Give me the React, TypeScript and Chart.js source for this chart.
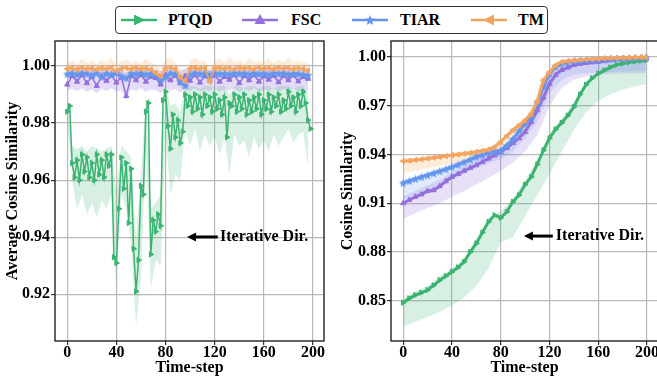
import React, { useEffect, useRef } from 'react';
import { Chart, registerables } from 'chart.js';

Chart.register(...registerables);

const FONT = "'Liberation Serif', 'Times New Roman', Times, serif";
const C_PTQD = '#3CB371';
const C_FSC = '#9370DB';
const C_TIAR = '#6495ED';
const C_TM = '#F4A460';

const SERIES = ['PTQD', 'FSC', 'TIAR', 'TM'];
const X_TICKS = [0, 40, 80, 120, 160, 200];
const Y_TICKS_LEFT = [0.92, 0.94, 0.96, 0.98, 1.0];
const Y_TICKS_RIGHT = [0.85, 0.88, 0.91, 0.94, 0.97, 1.0];

function range(a: number, b: number, s: number): number[] {
  const out: number[] = [];
  for (let v = a; v <= b; v += s) out.push(v);
  return out;
}

// ---------- LEFT panel (Average Cosine Similarity) ----------
const L_STEPS_2 = range(0, 198, 2);
const L_STEPS_4 = range(0, 196, 4);

const L_PTQD = [
  0.984, 0.986, 0.966, 0.961, 0.967, 0.960, 0.969, 0.963, 0.968, 0.961,
  0.966, 0.960, 0.969, 0.962, 0.967, 0.961, 0.969, 0.965, 0.969, 0.933,
  0.931, 0.950, 0.968, 0.957, 0.966, 0.945, 0.964, 0.936, 0.921, 0.932,
  0.958, 0.955, 0.984, 0.987, 0.934, 0.946, 0.942, 0.948, 0.944, 0.988,
  0.991, 0.979, 0.971, 0.983, 0.975, 0.981, 0.973, 0.977, 0.990, 0.986,
  0.989, 0.984, 0.990, 0.985, 0.989, 0.983, 0.990, 0.986, 0.989, 0.984,
  0.990, 0.985, 0.988, 0.983, 0.989, 0.975, 0.987, 0.986, 0.990, 0.984,
  0.989, 0.985, 0.990, 0.983, 0.988, 0.984, 0.989, 0.985, 0.990, 0.983,
  0.988, 0.985, 0.990, 0.984, 0.989, 0.986, 0.990, 0.984, 0.988, 0.985,
  0.991, 0.986, 0.989, 0.984, 0.990, 0.986, 0.991, 0.987, 0.981, 0.978,
];
const L_PTQD_LO = [
  0.981, 0.960, 0.950, 0.955, 0.948, 0.952, 0.947, 0.953, 0.950, 0.955,
  0.921, 0.955, 0.950, 0.938, 0.909, 0.925, 0.972, 0.922, 0.932, 0.930,
  0.975, 0.955, 0.962, 0.960, 0.978, 0.972, 0.978, 0.970, 0.976, 0.972,
  0.975, 0.969, 0.975, 0.962, 0.976, 0.972, 0.974, 0.968, 0.975, 0.971,
  0.974, 0.970, 0.976, 0.972, 0.975, 0.978, 0.973, 0.976, 0.977, 0.965,
];
const L_PTQD_HI = [
  0.987, 0.972, 0.971, 0.972, 0.970, 0.972, 0.971, 0.970, 0.971, 0.972,
  0.956, 0.972, 0.970, 0.968, 0.940, 0.962, 0.990, 0.950, 0.952, 0.955,
  0.994, 0.986, 0.987, 0.984, 0.993, 0.993, 0.993, 0.992, 0.993, 0.993,
  0.992, 0.993, 0.993, 0.990, 0.993, 0.993, 0.992, 0.993, 0.993, 0.992,
  0.993, 0.993, 0.992, 0.993, 0.993, 0.993, 0.992, 0.993, 0.993, 0.990,
];
const L_FSC = [
  0.9935, 0.9965, 0.9945, 0.9968, 0.9940, 0.9962, 0.9930, 0.9965, 0.9948, 0.9966,
  0.9942, 0.9960, 0.9895, 0.9965, 0.9950, 0.9968, 0.9945, 0.9962, 0.9958, 0.9935,
  0.9968, 0.9950, 0.9966, 0.9940, 0.9965, 0.9948, 0.9968, 0.9942, 0.9964, 0.9950,
  0.9967, 0.9945, 0.9962, 0.9952, 0.9968, 0.9940, 0.9965, 0.9950, 0.9968, 0.9945,
  0.9964, 0.9952, 0.9966, 0.9943, 0.9965, 0.9950, 0.9967, 0.9946, 0.9962, 0.9955,
];
const L_FSC_LO = [
  0.9915, 0.9920, 0.9912, 0.9922, 0.9910, 0.9918, 0.9905, 0.9920, 0.9912, 0.9922,
  0.9910, 0.9916, 0.9880, 0.9920, 0.9912, 0.9922, 0.9910, 0.9918, 0.9915, 0.9905,
  0.9922, 0.9912, 0.9920, 0.9905, 0.9920, 0.9912, 0.9922, 0.9910, 0.9918, 0.9912,
  0.9922, 0.9910, 0.9918, 0.9914, 0.9922, 0.9908, 0.9920, 0.9912, 0.9922, 0.9910,
  0.9918, 0.9914, 0.9920, 0.9908, 0.9920, 0.9912, 0.9922, 0.9910, 0.9918, 0.9912,
];
const L_FSC_HI = [
  0.9988, 0.9992, 0.9986, 0.9993, 0.9985, 0.9990, 0.9984, 0.9992, 0.9987, 0.9993,
  0.9985, 0.9990, 0.9975, 0.9992, 0.9987, 0.9993, 0.9985, 0.9990, 0.9989, 0.9982,
  0.9993, 0.9987, 0.9992, 0.9982, 0.9991, 0.9986, 0.9993, 0.9985, 0.9990, 0.9987,
  0.9993, 0.9985, 0.9990, 0.9988, 0.9993, 0.9984, 0.9991, 0.9987, 0.9993, 0.9985,
  0.9990, 0.9988, 0.9992, 0.9984, 0.9991, 0.9987, 0.9993, 0.9985, 0.9990, 0.9988,
];
const L_TIAR = [
  0.9972, 0.9975, 0.9970, 0.9976, 0.9973, 0.9968, 0.9975, 0.9962, 0.9974, 0.9970,
  0.9976, 0.9965, 0.9958, 0.9974, 0.9972, 0.9976, 0.9970, 0.9974, 0.9968, 0.9950,
  0.9962, 0.9975, 0.9972, 0.9945, 0.9932, 0.9970, 0.9976, 0.9972, 0.9975, 0.9969,
  0.9976, 0.9972, 0.9974, 0.9970, 0.9976, 0.9973, 0.9975, 0.9970, 0.9976, 0.9972,
  0.9975, 0.9969, 0.9976, 0.9973, 0.9975, 0.9970, 0.9974, 0.9972, 0.9970, 0.9968,
];
const L_TIAR_LO = [
  0.9958, 0.9962, 0.9955, 0.9963, 0.9959, 0.9952, 0.9962, 0.9945, 0.9960, 0.9956,
  0.9963, 0.9950, 0.9940, 0.9960, 0.9958, 0.9963, 0.9955, 0.9960, 0.9952, 0.9930,
  0.9945, 0.9962, 0.9958, 0.9925, 0.9912, 0.9955, 0.9963, 0.9958, 0.9962, 0.9954,
  0.9963, 0.9958, 0.9960, 0.9955, 0.9963, 0.9959, 0.9962, 0.9955, 0.9963, 0.9958,
  0.9962, 0.9954, 0.9963, 0.9959, 0.9962, 0.9955, 0.9960, 0.9958, 0.9955, 0.9952,
];
const L_TIAR_HI = [
  0.9986, 0.9988, 0.9984, 0.9989, 0.9986, 0.9983, 0.9988, 0.9978, 0.9987, 0.9984,
  0.9989, 0.9980, 0.9975, 0.9987, 0.9986, 0.9989, 0.9984, 0.9987, 0.9982, 0.9968,
  0.9978, 0.9988, 0.9986, 0.9962, 0.9952, 0.9984, 0.9989, 0.9986, 0.9988, 0.9983,
  0.9989, 0.9986, 0.9987, 0.9984, 0.9989, 0.9986, 0.9988, 0.9984, 0.9989, 0.9986,
  0.9988, 0.9983, 0.9989, 0.9986, 0.9988, 0.9984, 0.9987, 0.9986, 0.9984, 0.9982,
];
const L_TM = [
  0.9990, 0.9993, 0.9989, 0.9994, 0.9990, 0.9992, 0.9988, 0.9993, 0.9990, 0.9994,
  0.9982, 0.9991, 0.9993, 0.9989, 0.9994, 0.9990, 0.9992, 0.9988, 0.9975, 0.9965,
  0.9992, 0.9994, 0.9990, 0.9960, 0.9948, 0.9991, 0.9994, 0.9990, 0.9993, 0.9945,
  0.9992, 0.9994, 0.9990, 0.9993, 0.9989, 0.9994, 0.9991, 0.9993, 0.9989, 0.9994,
  0.9990, 0.9993, 0.9989, 0.9994, 0.9991, 0.9993, 0.9989, 0.9993, 0.9990, 0.9985,
];
const L_TM_LO = [
  0.9972, 0.9978, 0.9970, 0.9980, 0.9974, 0.9976, 0.9968, 0.9978, 0.9972, 0.9980,
  0.9962, 0.9975, 0.9978, 0.9970, 0.9979, 0.9973, 0.9976, 0.9968, 0.9950, 0.9940,
  0.9975, 0.9979, 0.9972, 0.9935, 0.9925, 0.9974, 0.9980, 0.9972, 0.9977, 0.9925,
  0.9975, 0.9979, 0.9972, 0.9978, 0.9970, 0.9979, 0.9973, 0.9977, 0.9970, 0.9979,
  0.9972, 0.9977, 0.9970, 0.9979, 0.9973, 0.9977, 0.9970, 0.9977, 0.9972, 0.9965,
];
const L_TM_HI = [
  1.0012, 1.0020, 1.0008, 1.0025, 1.0010, 1.0018, 1.0006, 1.0022, 1.0012, 1.0030,
  1.0008, 1.0015, 1.0024, 1.0010, 1.0019, 1.0008, 1.0026, 1.0012, 1.0004, 0.9995,
  1.0020, 1.0028, 1.0010, 0.9990, 0.9985, 1.0016, 1.0030, 1.0012, 1.0022, 0.9992,
  1.0018, 1.0026, 1.0010, 1.0032, 1.0014, 1.0020, 1.0008, 1.0028, 1.0012, 1.0018,
  1.0010, 1.0026, 1.0009, 1.0022, 1.0014, 1.0030, 1.0010, 1.0018, 1.0012, 1.0008,
];

// ---------- RIGHT panel (Cosine Similarity) ----------
const R_STEPS = [...range(0, 195, 5), 199];
const R_BAND_STEPS = [...range(0, 190, 10), 199];

const R_PTQD = [
  0.8488, 0.8515, 0.8535, 0.8550, 0.8566, 0.8595, 0.8627, 0.8652, 0.8678, 0.8705,
  0.8740, 0.8800, 0.8853, 0.8920, 0.8986, 0.9027, 0.9010, 0.9047, 0.9109, 0.9150,
  0.9215, 0.9262, 0.9340, 0.9426, 0.9500, 0.9555, 0.9595, 0.9640, 0.9693, 0.9770,
  0.9830, 0.9870, 0.9898, 0.9918, 0.9937, 0.9952, 0.9960, 0.9967, 0.9972, 0.9977,
  0.9980,
];
const R_FSC = [
  0.9100, 0.9120, 0.9140, 0.9155, 0.9175, 0.9180, 0.9205, 0.9235, 0.9262, 0.9280,
  0.9300, 0.9318, 0.9334, 0.9355, 0.9375, 0.9395, 0.9416, 0.9440, 0.9470, 0.9500,
  0.9539, 0.9600, 0.9672, 0.9750, 0.9836, 0.9890, 0.9920, 0.9935, 0.9950, 0.9958,
  0.9963, 0.9967, 0.9970, 0.9975, 0.9980, 0.9985, 0.9988, 0.9991, 0.9993, 0.9995,
  0.9995,
];
const R_TIAR = [
  0.9225, 0.9238, 0.9250, 0.9262, 0.9273, 0.9285, 0.9298, 0.9310, 0.9324, 0.9338,
  0.9353, 0.9368, 0.9385, 0.9398, 0.9410, 0.9418, 0.9426, 0.9455, 0.9495, 0.9545,
  0.9590, 0.9630, 0.9715, 0.9816, 0.9898, 0.9939, 0.9960, 0.9968, 0.9974, 0.9978,
  0.9980, 0.9983, 0.9985, 0.9987, 0.9989, 0.9991, 0.9992, 0.9993, 0.9994, 0.9995,
  0.9995,
];
const R_TM = [
  0.9359, 0.9362, 0.9366, 0.9370, 0.9375, 0.9380, 0.9385, 0.9390, 0.9396, 0.9400,
  0.9405, 0.9410, 0.9416, 0.9422, 0.9430, 0.9445, 0.9478, 0.9515, 0.9550, 0.9580,
  0.9610, 0.9650, 0.9730, 0.9857, 0.9908, 0.9949, 0.9969, 0.9975, 0.9979, 0.9982,
  0.9985, 0.9987, 0.9989, 0.9991, 0.9993, 0.9994, 0.9995, 0.9996, 0.9997, 0.9998,
  0.9998,
];
const R_PTQD_LO = [0.834, 0.837, 0.840, 0.843, 0.847, 0.852, 0.859, 0.870, 0.886, 0.889, 0.902, 0.915, 0.928, 0.942, 0.955, 0.966, 0.973, 0.977, 0.980, 0.982, 0.983];
const R_PTQD_HI = [0.851, 0.856, 0.859, 0.865, 0.870, 0.876, 0.888, 0.901, 0.905, 0.913, 0.924, 0.937, 0.953, 0.962, 0.972, 0.985, 0.991, 0.995, 0.997, 0.998, 0.9985];
const R_FSC_LO = [0.9005, 0.9040, 0.9070, 0.9100, 0.9140, 0.9175, 0.9215, 0.9255, 0.9300, 0.9350, 0.9420, 0.9520, 0.9700, 0.9810, 0.9860, 0.9880, 0.9890, 0.9895, 0.9898, 0.9900, 0.9900];
const R_FSC_HI = [0.9140, 0.9175, 0.9210, 0.9245, 0.9290, 0.9330, 0.9365, 0.9400, 0.9440, 0.9500, 0.9575, 0.9710, 0.9870, 0.9950, 0.9975, 0.9985, 0.9990, 0.9995, 0.9997, 0.9998, 0.9998];
const R_TIAR_LO = [0.9120, 0.9150, 0.9180, 0.9210, 0.9245, 0.9280, 0.9315, 0.9345, 0.9370, 0.9420, 0.9500, 0.9600, 0.9780, 0.9860, 0.9890, 0.9900, 0.9905, 0.9908, 0.9910, 0.9912, 0.9912];
const R_TIAR_HI = [0.9240, 0.9265, 0.9290, 0.9315, 0.9340, 0.9370, 0.9400, 0.9425, 0.9440, 0.9510, 0.9605, 0.9730, 0.9915, 0.9975, 0.9990, 0.9995, 0.9998, 1.0000, 1.0001, 1.0002, 1.0002];
const R_TM_LO = [0.9285, 0.9300, 0.9315, 0.9330, 0.9345, 0.9358, 0.9375, 0.9395, 0.9410, 0.9480, 0.9550, 0.9670, 0.9870, 0.9940, 0.9965, 0.9975, 0.9980, 0.9984, 0.9987, 0.9990, 0.9991];
const R_TM_HI = [0.9375, 0.9381, 0.9390, 0.9400, 0.9411, 0.9420, 0.9431, 0.9445, 0.9493, 0.9565, 0.9625, 0.9745, 0.9920, 0.9980, 0.9990, 0.9995, 0.9998, 1.0000, 1.0001, 1.0002, 1.0002];

const NOTE_TEXT = 'Iterative Dir.';

function makeStar(color: string, size: number) {
  const c = document.createElement('canvas');
  c.width = size;
  c.height = size;
  const ctx = c.getContext('2d')!;
  ctx.fillStyle = color;
  ctx.beginPath();
  for (let i = 0; i < 10; i++) {
    const r = i % 2 === 0 ? size / 2 : size / 4.4;
    const a = -Math.PI / 2 + (i * Math.PI) / 5;
    ctx.lineTo(size / 2 + r * Math.cos(a), size / 2 + 0.5 + r * Math.sin(a));
  }
  ctx.closePath();
  ctx.fill();
  return c;
}

function pts(steps: number[], vals: number[]) {
  return steps.map((x, i) => ({ x, y: vals[i] }));
}

function lineSet(label: string, steps: number[], vals: number[], color: string, style: any, rot: number, r: number, lw: number, order: number) {
  return {
    label,
    data: pts(steps, vals),
    borderColor: color,
    backgroundColor: color,
    borderWidth: lw,
    pointStyle: style,
    pointRotation: rot,
    pointRadius: r,
    pointBorderWidth: 1,
    pointBackgroundColor: color,
    pointBorderColor: color,
    fill: false,
    tension: 0,
    order,
  };
}

function bandSets(steps: number[], lo: number[], hi: number[], rgba: string, order: number) {
  return [
    { label: '', data: pts(steps, lo), borderWidth: 0, borderColor: 'rgba(0,0,0,0)', pointRadius: 0, fill: false, order },
    { label: '', data: pts(steps, hi), borderWidth: 0, borderColor: 'rgba(0,0,0,0)', pointRadius: 0, fill: '-1', backgroundColor: rgba, order },
  ];
}

function framePlugin(note: { head: number; tail: number; textX: number; y: number }) {
  return {
    id: 'frameNote',
    afterDatasetsDraw(chart: any) {
      const { ctx, chartArea: a, scales } = chart;
      const x = scales.x;
      const y = scales.y;
      ctx.save();
      ctx.strokeStyle = '#222';
      ctx.lineWidth = 1.4;
      ctx.strokeRect(a.left, a.top, a.right - a.left, a.bottom - a.top);
      const hx = x.getPixelForValue(note.head);
      const tx = x.getPixelForValue(note.tail);
      const py = y.getPixelForValue(note.y);
      ctx.strokeStyle = '#000';
      ctx.fillStyle = '#000';
      ctx.lineWidth = 3;
      ctx.beginPath();
      ctx.moveTo(tx, py);
      ctx.lineTo(hx + 6, py);
      ctx.stroke();
      ctx.beginPath();
      ctx.moveTo(hx, py);
      ctx.lineTo(hx + 9, py - 4.5);
      ctx.lineTo(hx + 9, py + 4.5);
      ctx.closePath();
      ctx.fill();
      ctx.font = `bold 16px ${FONT}`;
      ctx.textAlign = 'left';
      ctx.textBaseline = 'alphabetic';
      ctx.fillText(NOTE_TEXT, x.getPixelForValue(note.textX), py + 4);
      ctx.restore();
    },
  };
}

function makeOptions(p: { yMin: number; yMax: number; yTicks: number[]; yTitle: string; yWidth: number; titlePad: number; padRight: number }) {
  const tickFont = { family: FONT, size: 16, weight: 'bold' as const };
  const grid = { color: '#b9b9b9', lineWidth: 1.2, tickColor: '#333', tickLength: 4, tickWidth: 1.2 };
  return {
    animation: false as const,
    responsive: false,
    maintainAspectRatio: false,
    events: [],
    layout: { padding: { top: 41, right: p.padRight, bottom: 0, left: 0 } },
    plugins: { legend: { display: false }, tooltip: { enabled: false } },
    scales: {
      x: {
        type: 'linear' as const,
        min: -9.95,
        max: 208.95,
        afterBuildTicks: (s: any) => {
          s.ticks = X_TICKS.map((v) => ({ value: v }));
        },
        afterFit: (s: any) => {
          s.height = 36;
          s.paddingLeft = 0;
          s.paddingRight = 0;
        },
        border: { display: false },
        grid,
        ticks: { color: '#000', font: tickFont, padding: -2, maxRotation: 0, autoSkip: false, callback: (v: any) => String(v) },
        title: { display: true, text: 'Time-step', color: '#000', font: tickFont, padding: { top: 0, bottom: 0 } },
      },
      y: {
        type: 'linear' as const,
        min: p.yMin,
        max: p.yMax,
        afterBuildTicks: (s: any) => {
          s.ticks = p.yTicks.map((v) => ({ value: v }));
        },
        afterFit: (s: any) => {
          s.width = p.yWidth;
          s.paddingTop = 0;
          s.paddingBottom = 0;
        },
        border: { display: false },
        grid,
        ticks: { color: '#000', font: tickFont, padding: 1, autoSkip: false, callback: (v: any) => Number(v).toFixed(2) },
        title: { display: true, text: p.yTitle, color: '#000', font: tickFont, padding: { top: p.titlePad, bottom: 0 } },
      },
    },
  };
}

function LegendMarker({ kind, color }: { kind: string; color: string }) {
  const cx = 19;
  const cy = 14;
  let shape: any = null;
  if (kind === 'right') shape = <polygon points={`${cx - 5},${cy - 5.5} ${cx + 6},${cy} ${cx - 5},${cy + 5.5}`} fill={color} />;
  if (kind === 'up') shape = <polygon points={`${cx},${cy - 6} ${cx + 5.5},${cy + 4} ${cx - 5.5},${cy + 4}`} fill={color} />;
  if (kind === 'left') shape = <polygon points={`${cx + 5},${cy - 5.5} ${cx - 6},${cy} ${cx + 5},${cy + 5.5}`} fill={color} />;
  if (kind === 'star') {
    const p: string[] = [];
    for (let i = 0; i < 10; i++) {
      const r = i % 2 === 0 ? 5.5 : 2.4;
      const a = -Math.PI / 2 + (i * Math.PI) / 5;
      p.push(`${cx + r * Math.cos(a)},${cy + 0.5 + r * Math.sin(a)}`);
    }
    shape = <polygon points={p.join(' ')} fill={color} />;
  }
  return (
    <svg width={38} height={28} style={{ display: 'block' }}>
      <line x1={1} y1={cy} x2={37} y2={cy} stroke={color} strokeWidth={2.5} />
      {shape}
    </svg>
  );
}

const LEGEND_ITEMS = [
  { name: SERIES[0], color: C_PTQD, kind: 'right', lx: 120, tx: 168 },
  { name: SERIES[1], color: C_FSC, kind: 'up', lx: 241, tx: 291 },
  { name: SERIES[2], color: C_TIAR, kind: 'star', lx: 351, tx: 400 },
  { name: SERIES[3], color: C_TM, kind: 'left', lx: 470, tx: 518 },
];

export default function App() {
  const leftRef = useRef<HTMLCanvasElement>(null);
  const rightRef = useRef<HTMLCanvasElement>(null);

  useEffect(() => {
    const star = makeStar(C_TIAR, 9);
    const starR = makeStar(C_TIAR, 9);

    const leftDatasets: any[] = [
      ...bandSets(L_STEPS_4, L_PTQD_LO, L_PTQD_HI, 'rgba(60,179,113,0.2)', 20),
      ...bandSets(L_STEPS_4, L_FSC_LO, L_FSC_HI, 'rgba(147,112,219,0.25)', 19),
      ...bandSets(L_STEPS_4, L_TIAR_LO, L_TIAR_HI, 'rgba(100,149,237,0.2)', 18),
      ...bandSets(L_STEPS_4, L_TM_LO, L_TM_HI, 'rgba(244,164,96,0.22)', 17),
      lineSet(SERIES[0], L_STEPS_2, L_PTQD, C_PTQD, 'triangle', 90, 3, 1.5, 4),
      lineSet(SERIES[1], L_STEPS_4, L_FSC, C_FSC, 'triangle', 0, 3, 1.5, 3),
      lineSet(SERIES[2], L_STEPS_4, L_TIAR, C_TIAR, star, 0, 3, 1.5, 2),
      lineSet(SERIES[3], L_STEPS_4, L_TM, C_TM, 'triangle', -90, 3, 1.5, 1),
    ];
    const rightDatasets: any[] = [
      ...bandSets(R_BAND_STEPS, R_PTQD_LO, R_PTQD_HI, 'rgba(60,179,113,0.2)', 20),
      ...bandSets(R_BAND_STEPS, R_FSC_LO, R_FSC_HI, 'rgba(147,112,219,0.22)', 19),
      ...bandSets(R_BAND_STEPS, R_TIAR_LO, R_TIAR_HI, 'rgba(100,149,237,0.2)', 18),
      ...bandSets(R_BAND_STEPS, R_TM_LO, R_TM_HI, 'rgba(244,164,96,0.22)', 17),
      lineSet(SERIES[0], R_STEPS, R_PTQD, C_PTQD, 'triangle', 90, 3, 3, 4),
      lineSet(SERIES[1], R_STEPS, R_FSC, C_FSC, 'triangle', 0, 3, 3, 3),
      lineSet(SERIES[2], R_STEPS, R_TIAR, C_TIAR, starR, 0, 3, 3, 2),
      lineSet(SERIES[3], R_STEPS, R_TM, C_TM, 'triangle', -90, 3, 3, 1),
    ];

    const left = new Chart(leftRef.current!, {
      type: 'line',
      data: { datasets: leftDatasets },
      options: makeOptions({ yMin: 0.90366, yMax: 1.00875, yTicks: Y_TICKS_LEFT, yTitle: 'Average Cosine Similarity', yWidth: 55, titlePad: 3, padRight: 6 }) as any,
      plugins: [framePlugin({ head: 97.5, tail: 122.5, textX: 124.3, y: 0.9401 })],
    });
    const right = new Chart(rightRef.current!, {
      type: 'line',
      data: { datasets: rightDatasets },
      options: makeOptions({ yMin: 0.82523, yMax: 1.00984, yTicks: Y_TICKS_RIGHT, yTitle: 'Cosine Similarity', yWidth: 61, titlePad: 8, padRight: 12 }) as any,
      plugins: [framePlugin({ head: 99, tail: 122.7, textX: 125.2, y: 0.8898 })],
    });
    return () => {
      left.destroy();
      right.destroy();
    };
  }, []);

  return (
    <div style={{ position: 'fixed', left: 0, top: 0, width: 657, height: 377, overflow: 'hidden', background: '#fff' }}>
      <div style={{ position: 'absolute', left: 0, top: 0, width: 330, height: 377 }}>
        <canvas ref={leftRef} width={330} height={377} style={{ display: 'block' }} />
      </div>
      <div style={{ position: 'absolute', left: 330, top: 0, width: 340, height: 377 }}>
        <canvas ref={rightRef} width={340} height={377} style={{ display: 'block' }} />
      </div>
      <div
        style={{
          position: 'absolute',
          left: 115,
          top: 6,
          width: 433,
          height: 28,
          border: '1px solid #333',
          borderRadius: 4,
          background: '#fff',
          boxSizing: 'border-box',
        }}
      />
      {LEGEND_ITEMS.map((it) => (
        <React.Fragment key={it.name}>
          <div style={{ position: 'absolute', left: it.lx, top: 6 }}>
            <LegendMarker kind={it.kind} color={it.color} />
          </div>
          <div
            style={{
              position: 'absolute',
              left: it.tx,
              top: 10,
              height: 20,
              lineHeight: '20px',
              fontFamily: FONT,
              fontWeight: 'bold',
              fontSize: 16,
              color: '#000',
              whiteSpace: 'nowrap',
            }}
          >
            {it.name}
          </div>
        </React.Fragment>
      ))}
    </div>
  );
}
